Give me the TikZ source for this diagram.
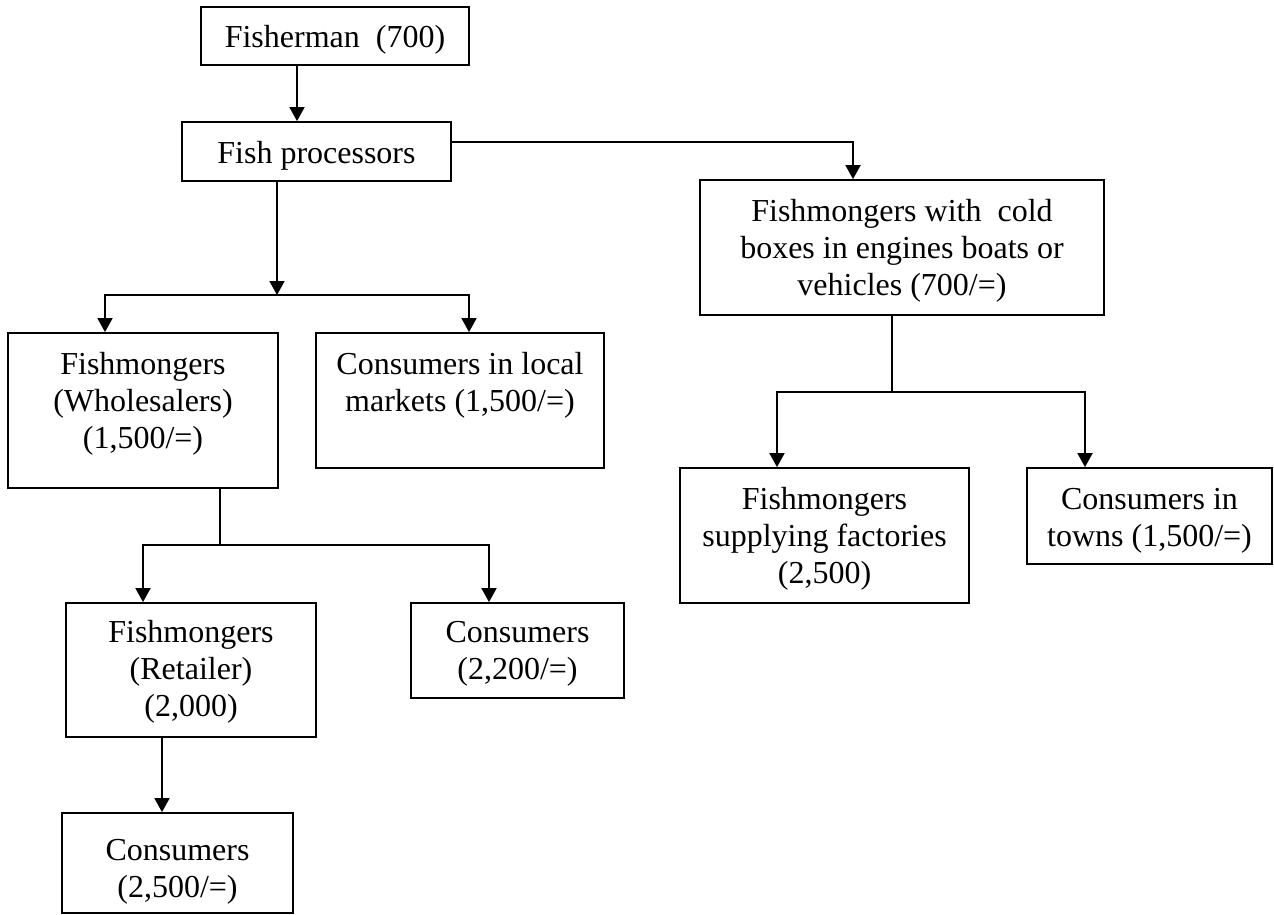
\documentclass[tikz,border=0pt]{standalone}
\usepackage{fontspec}
\setmainfont{Liberation Serif}
\usetikzlibrary{arrows.meta}
\begin{document}
\begin{tikzpicture}[x=1pt,y=-1pt,
  box/.style={draw, line width=1.8pt, rectangle, inner sep=0pt},
  txt/.style={font=\fontsize{32}{37}\selectfont, inner sep=0pt, anchor=base},
  link/.style={line width=1.8pt},
  arr/.style={link, -{Triangle[length=14pt,width=15pt]}}]
\useasboundingbox (0,0) rectangle (1274,915);

% boxes
\node[box, minimum width=268pt, minimum height=58pt]  (fisher) at (335,36) {};
\node[box, minimum width=269pt, minimum height=59pt]  (proc)   at (316.5,151.5) {};
\node[box, minimum width=404pt, minimum height=135pt] (cold)   at (902,247.5) {};
\node[box, minimum width=270pt, minimum height=155pt] (whole)  at (143,410.5) {};
\node[box, minimum width=288pt, minimum height=135pt] (local)  at (460,400.5) {};
\node[box, minimum width=289pt, minimum height=135pt] (fact)   at (824.5,535.5) {};
\node[box, minimum width=245pt, minimum height=96pt]  (towns)  at (1149.5,516) {};
\node[box, minimum width=250pt, minimum height=134pt] (retail) at (191,670) {};
\node[box, minimum width=213pt, minimum height=95pt]  (cons2)  at (517.5,650.5) {};
\node[box, minimum width=231pt, minimum height=100pt] (cons3)  at (177.5,863) {};

% labels (first-line baselines)
\node[txt] (tfisher) at (335,48) {Fisherman \ (700)};
\node[txt] (tproc)   at (316.5,163) {Fish processors};
\node[txt] (tcold)   at (902,221) {\begin{tabular}[t]{@{}c@{}}Fishmongers with \ cold\\boxes in engines boats or\\vehicles (700/=)\end{tabular}};
\node[txt] (twhole)  at (143,374) {\begin{tabular}[t]{@{}c@{}}Fishmongers\\(Wholesalers)\\(1,500/=)\end{tabular}};
\node[txt] (tlocal)  at (460,374) {\begin{tabular}[t]{@{}c@{}}Consumers in local\\markets (1,500/=)\end{tabular}};
\node[txt] (tfact)   at (824.5,509) {\begin{tabular}[t]{@{}c@{}}Fishmongers\\supplying factories\\(2,500)\end{tabular}};
\node[txt] (ttowns)  at (1149.5,509) {\begin{tabular}[t]{@{}c@{}}Consumers in\\towns (1,500/=)\end{tabular}};
\node[txt] (tretail) at (191,642) {\begin{tabular}[t]{@{}c@{}}Fishmongers\\(Retailer)\\(2,000)\end{tabular}};
\node[txt] (tcons2)  at (517.5,642) {\begin{tabular}[t]{@{}c@{}}Consumers\\(2,200/=)\end{tabular}};
\node[txt] (tcons3)  at (177.5,860) {\begin{tabular}[t]{@{}c@{}}Consumers\\(2,500/=)\end{tabular}};

% branch points
\coordinate (k1) at (853,142);
\coordinate (s1) at (277,295);
\coordinate (s2) at (220,545);
\coordinate (s3) at (892,392);

% connectors
\draw[arr] (fisher.south -| 297,0) -- (proc.north -| 297,0);
\draw[arr] (proc.east |- k1) -| (cold.north -| k1);

\draw[arr] (proc.south -| s1) -- (s1);
\draw[arr] (s1) -| (whole.north -| 105,0);
\draw[arr] (s1) -| (local.north -| 469,0);

\draw[link] (whole.south -| s2) -- (s2);
\draw[arr] (s2) -| (retail.north -| 143,0);
\draw[arr] (s2) -| (cons2.north -| 489,0);

\draw[link] (cold.south -| s3) -- (s3);
\draw[arr] (s3) -| (fact.north -| 777,0);
\draw[arr] (s3) -| (towns.north -| 1085,0);

\draw[arr] (retail.south -| 162,0) -- (cons3.north -| 162,0);
\end{tikzpicture}
\end{document}
